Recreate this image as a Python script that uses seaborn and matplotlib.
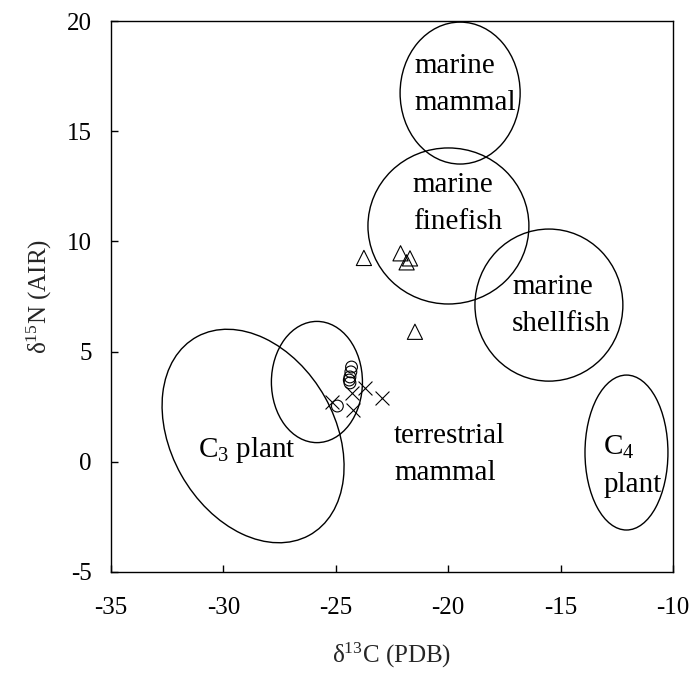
import matplotlib
matplotlib.use("Agg")
import matplotlib.pyplot as plt
from matplotlib.patches import Ellipse
import seaborn as sns
import pandas as pd

# ---- data ----
tri_x = [-23.75, -22.12, -21.70, -21.85, -21.48]
tri_y = [9.25, 9.46, 9.23, 9.05, 5.90]
circ_x = [-24.30, -24.33, -24.37, -24.40, -24.37, -24.93]
circ_y = [4.30, 4.08, 3.85, 3.71, 3.58, 2.53]
cross_x = [-25.18, -23.70, -22.96, -24.22, -24.30]
cross_y = [2.73, 3.35, 2.88, 2.35, 3.10]

ell_names = ["marine mammal", "marine finefish", "marine shellfish", "C4 plant", "terrestrial mammal", "C3 plant"]
ell_cx = [-19.47, -19.99, -15.52, -12.07, -25.84, -28.68]
ell_cy = [16.73, 10.70, 7.11, 0.42, 3.62, 1.17]
ell_w = [5.34, 7.16, 6.58, 3.69, 4.05, 7.30]
ell_h = [6.44, 7.08, 6.90, 7.03, 5.50, 10.30]
ell_angle = [0, 0, 0, 0, 0, 28.8]

lab_text = ["marine\nmammal", "marine\nfinefish", "marine\nshellfish", "C$_4$\nplant",
            "terrestrial\nmammal", "C$_3$ plant"]
lab_x = [-21.48, -21.57, -17.16, -13.11, -22.40, -31.13]
lab_y = [17.14, 11.74, 7.07, -0.19, 0.35, 0.54]

x_ticks = [-35, -30, -25, -20, -15, -10]
y_ticks = [-5, 0, 5, 10, 15, 20]

sns.set_style("ticks")
plt.rcParams["font.family"] = ["Liberation Serif", "DejaVu Serif"]
plt.rcParams["mathtext.default"] = "regular"

fig = plt.figure(figsize=(6.91, 6.83), dpi=100)
ax = fig.add_axes([111 / 691, 1 - 572 / 683, 562 / 691, 551 / 683])

df_tri = pd.DataFrame({"x": tri_x, "y": tri_y})
df_circ = pd.DataFrame({"x": circ_x, "y": circ_y})
df_cross = pd.DataFrame({"x": cross_x, "y": cross_y})

sns.scatterplot(data=df_tri, x="x", y="y", marker="^", s=120, facecolors="none",
                edgecolor="black", linewidth=0.8, ax=ax, zorder=3)
sns.scatterplot(data=df_circ, x="x", y="y", marker="o", s=72, facecolors="none",
                edgecolor="black", linewidth=0.8, ax=ax, zorder=3)
sns.scatterplot(data=df_cross, x="x", y="y", marker="x", s=100, color="black",
                linewidth=0.8, ax=ax, zorder=3)

for cx, cy, w, h, a in zip(ell_cx, ell_cy, ell_w, ell_h, ell_angle):
    ax.add_patch(Ellipse((cx, cy), w, h, angle=a, fill=False, edgecolor="black", lw=1.0))

for t, x, y in zip(lab_text, lab_x, lab_y):
    ax.text(x, y, t, ha="left", va="center", multialignment="left", fontsize=21,
            linespacing=1.55, color="black")

ax.set_xlim(-35, -10)
ax.set_ylim(-5, 20)
ax.set_xticks(x_ticks)
ax.set_yticks(y_ticks)
ax.set_xticklabels([str(v) for v in x_ticks])
ax.set_yticklabels([str(v) for v in y_ticks])
ax.tick_params(axis="both", direction="in", length=5, width=1, labelsize=18, colors="black")
ax.tick_params(axis="x", pad=18)
ax.tick_params(axis="y", pad=14)
for sp in ax.spines.values():
    sp.set_visible(True)
    sp.set_linewidth(1.0)
    sp.set_color("black")

ax.set_xlabel("δ$^{13}$C (PDB)", fontsize=18, labelpad=16)
ax.set_ylabel("δ$^{15}$N (AIR)", fontsize=18, labelpad=9)

fig.savefig("out.png", dpi=100)
